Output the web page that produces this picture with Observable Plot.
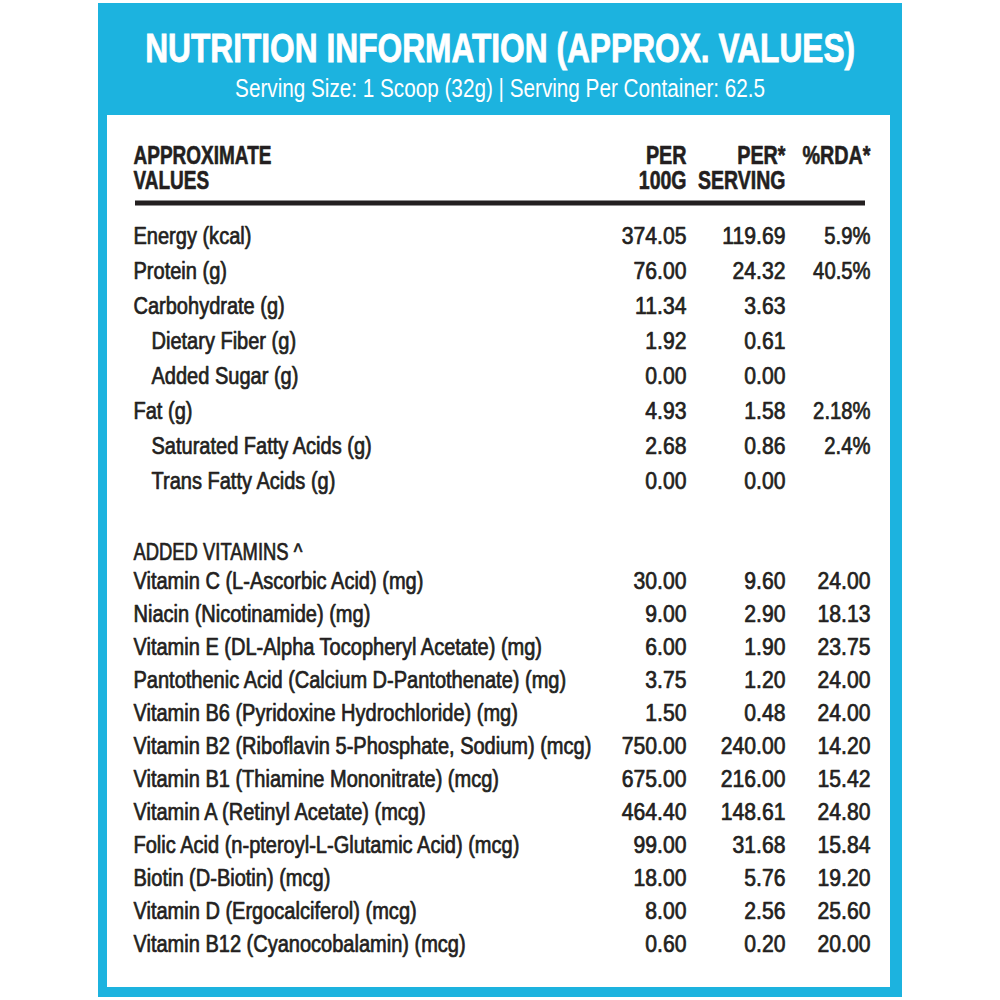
<!DOCTYPE html>
<html><head><meta charset="utf-8">
<script src="https://cdn.jsdelivr.net/npm/d3@7"></script>
<script src="https://cdn.jsdelivr.net/npm/@observablehq/plot@0.6"></script>
<style>
html,body{margin:0;padding:0;background:#fff;}
#page{position:relative;width:1000px;height:1000px;overflow:hidden;background:#fff;font-family:"Liberation Sans",Arial,Helvetica,sans-serif;}
#frame{position:absolute;left:98px;top:3px;width:804px;height:994px;background:#1cb3df;}
#panel{position:absolute;left:107px;top:115px;width:783px;height:872px;background:#fff;}
.hd{position:absolute;left:0;width:1000px;text-align:center;color:#fff;margin:0;white-space:nowrap;}
.hd span{display:inline-block;transform-origin:50% 50%;}
#title{top:28px;font-size:40px;line-height:40px;font-weight:bold;-webkit-text-stroke:0.8px #fff;}
#subtitle{top:76px;font-size:25px;line-height:25px;font-weight:normal;}
.layer{position:absolute;left:0;top:0;}
</style></head>
<body><div id="page">
<div id="frame"></div><div id="panel"></div>
<h1 class="hd" id="title"><span>NUTRITION INFORMATION (APPROX. VALUES)</span></h1>
<p class="hd" id="subtitle"><span>Serving Size: 1 Scoop (32g) | Serving Per Container: 62.5</span></p>
<div id="chartA" class="layer"></div>
<div id="chartB" class="layer"></div>
</div>
<script>
// ---------- data ----------
const labelHeader = ["APPROXIMATE", "VALUES"];
const valueHeaderLine1 = ["PER", "PER*", "%RDA*"];
const valueHeaderLine2 = ["100G", "SERVING", ""];

const nutrients = ["Energy (kcal)", "Protein (g)", "Carbohydrate (g)", "Dietary Fiber (g)", "Added Sugar (g)", "Fat (g)", "Saturated Fatty Acids (g)", "Trans Fatty Acids (g)"];
const nutrientPer100g = [374.05, 76.00, 11.34, 1.92, 0.00, 4.93, 2.68, 0.00];
const nutrientPerServing = [119.69, 24.32, 3.63, 0.61, 0.00, 1.58, 0.86, 0.00];
const nutrientRDA = [5.9, 40.5, null, null, null, 2.18, 2.4, null];
const subItems = ["Dietary Fiber (g)", "Added Sugar (g)", "Saturated Fatty Acids (g)", "Trans Fatty Acids (g)"];

const vitaminSection = "ADDED VITAMINS ^";
const vitamins = [
  "Vitamin C (L-Ascorbic Acid) (mg)",
  "Niacin (Nicotinamide) (mg)",
  "Vitamin E (DL-Alpha Tocopheryl Acetate) (mg)",
  "Pantothenic Acid (Calcium D-Pantothenate) (mg)",
  "Vitamin B6 (Pyridoxine Hydrochloride) (mg)",
  "Vitamin B2 (Riboflavin 5-Phosphate, Sodium) (mcg)",
  "Vitamin B1 (Thiamine Mononitrate) (mcg)",
  "Vitamin A (Retinyl Acetate) (mcg)",
  "Folic Acid (n-pteroyl-L-Glutamic Acid) (mcg)",
  "Biotin (D-Biotin) (mcg)",
  "Vitamin D (Ergocalciferol) (mcg)",
  "Vitamin B12 (Cyanocobalamin) (mcg)"
];
const vitaminPer100g = [30.00, 9.00, 6.00, 3.75, 1.50, 750.00, 675.00, 464.40, 99.00, 18.00, 8.00, 0.60];
const vitaminPerServing = [9.60, 2.90, 1.90, 1.20, 0.48, 240.00, 216.00, 148.61, 31.68, 5.76, 2.56, 0.20];
const vitaminRDA = [24.00, 18.13, 23.75, 24.00, 24.00, 14.20, 15.42, 24.80, 15.84, 19.20, 25.60, 20.00];

// ---------- layout ----------
const INK = "#231f20";
const FONT = '"Liberation Sans", Arial, Helvetica, sans-serif';
const col = {label: 133, sub: 151, per100g: 686, perServing: 785, rda: 870};
const valueX = [col.per100g, col.perServing, col.rda];
const fmt2 = v => v == null ? "" : v.toFixed(2);
const fmtPct = v => v == null ? "" : `${v}%`;

const rowsA = nutrients.map((name, i) => ({name, sub: subItems.includes(name), p100: nutrientPer100g[i], ps: nutrientPerServing[i], rda: nutrientRDA[i]}));
const rowsB = vitamins.map((name, i) => ({name, p100: vitaminPer100g[i], ps: vitaminPerServing[i], rda: vitaminRDA[i]}));

const common = {
  width: 1000, marginLeft: 135, marginRight: 135, marginTop: 0, marginBottom: 0,
  style: {background: "transparent", fontFamily: FONT, color: INK, overflow: "visible"},
  x: {domain: [135, 865], axis: null}
};
const body = {fontSize: 23, fill: INK, stroke: INK, strokeWidth: 0.7};
const head = {fontSize: 25, fontWeight: "bold", fill: INK, stroke: INK, strokeWidth: 0.6, frameAnchor: "top", lineAnchor: "bottom"};

const chartA = Plot.plot({
  ...common,
  height: 520,
  y: {type: "point", domain: nutrients, range: [233.6, 484.3], padding: 0, axis: null},
  marks: [
    Plot.ruleY([nutrients[0]], {dy: -33.6, stroke: INK, strokeWidth: 5}),
    Plot.text([labelHeader[0]], {...head, x: () => col.label, text: d => d, dy: 163, textAnchor: "start"}),
    Plot.text([labelHeader[1]], {...head, x: () => col.label, text: d => d, dy: 188, textAnchor: "start"}),
    Plot.text(valueHeaderLine1, {...head, x: (d, i) => valueX[i], text: d => d, dy: 163, textAnchor: "end"}),
    Plot.text(valueHeaderLine2, {...head, x: (d, i) => valueX[i], text: d => d, dy: 188, textAnchor: "end"}),
    Plot.text(rowsA, {...body, x: d => d.sub ? col.sub : col.label, y: "name", text: "name", textAnchor: "start"}),
    Plot.text(rowsA, {...body, x: () => col.per100g, y: "name", text: d => fmt2(d.p100), textAnchor: "end"}),
    Plot.text(rowsA, {...body, x: () => col.perServing, y: "name", text: d => fmt2(d.ps), textAnchor: "end"}),
    Plot.text(rowsA, {...body, x: () => col.rda, y: "name", text: d => fmtPct(d.rda), textAnchor: "end"})
  ]
});

const chartB = Plot.plot({
  ...common,
  height: 1000,
  y: {type: "point", domain: [vitaminSection, ...vitamins], range: [545.2, 945.9], padding: 0, axis: null},
  marks: [
    Plot.text([vitaminSection], {...body, x: () => col.label, y: d => d, text: d => d, dy: 4, textAnchor: "start"}),
    Plot.text(rowsB, {...body, x: () => col.label, y: "name", text: "name", textAnchor: "start"}),
    Plot.text(rowsB, {...body, x: () => col.per100g, y: "name", text: d => fmt2(d.p100), textAnchor: "end"}),
    Plot.text(rowsB, {...body, x: () => col.perServing, y: "name", text: d => fmt2(d.ps), textAnchor: "end"}),
    Plot.text(rowsB, {...body, x: () => col.rda, y: "name", text: d => fmt2(d.rda), textAnchor: "end"})
  ]
});

document.getElementById("chartA").appendChild(chartA);
document.getElementById("chartB").appendChild(chartB);

// condensed look: compress glyphs horizontally
function condense(svg, factors) {
  d3.select(svg).selectAll('g[aria-label="text"]').each(function (_, gi) {
    const k = factors[Math.min(gi, factors.length - 1)];
    d3.select(this).selectAll("text").each(function () {
      const w = this.getComputedTextLength();
      if (w > 0) {
        this.setAttribute("textLength", (w * k).toFixed(2));
        this.setAttribute("lengthAdjust", "spacingAndGlyphs");
      }
    });
  });
}
condense(chartA, [0.76, 0.76, 0.79, 0.78, 0.87, 0.92, 0.92, 0.88]);
condense(chartB, [0.80, 0.87, 0.92, 0.92, 0.92]);

function fitWidth(id, target) {
  const span = document.querySelector(`#${id} span`);
  const w = span.getBoundingClientRect().width;
  span.style.transform = `scaleX(${target / w})`;
}
fitWidth("title", 710);
fitWidth("subtitle", 530);
</script>
</body></html>
